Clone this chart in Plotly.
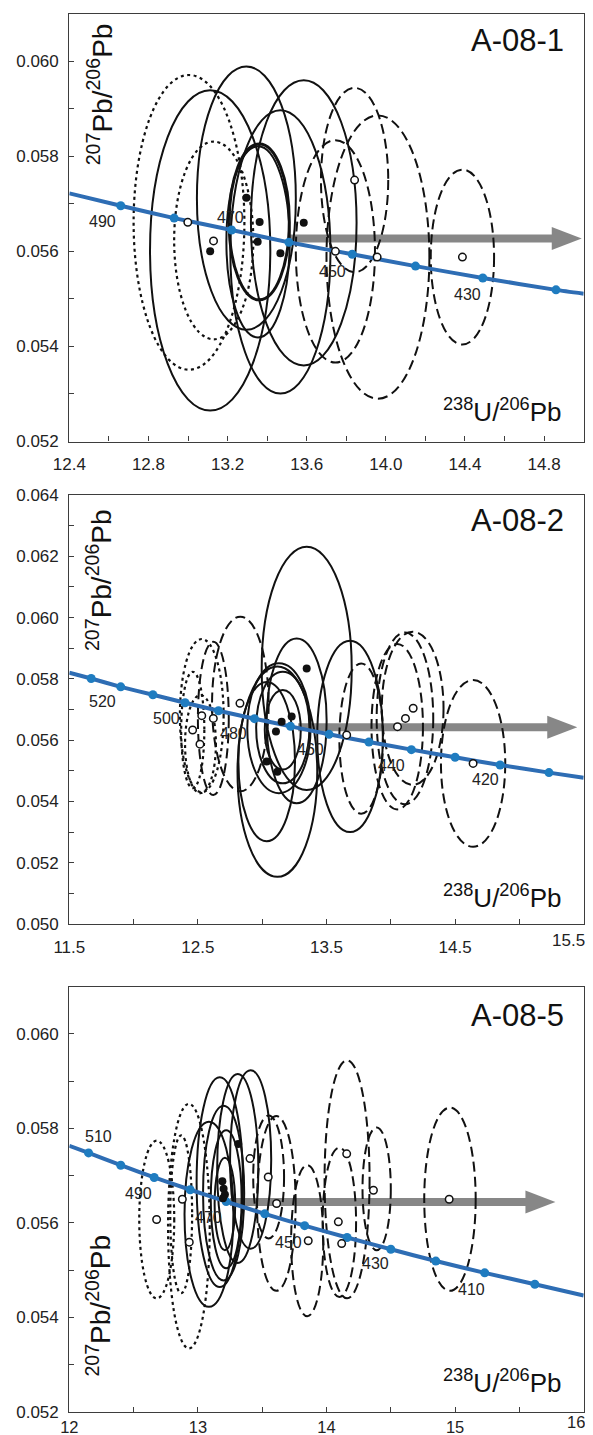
import plotly.graph_objects as go

# ================= DATA =================
# ---- Panel A-08-1 ----
a1_tick_x = [12.66, 12.93, 13.22, 13.51, 13.83, 14.15, 14.49, 14.86]
a1_tick_y = [0.05696, 0.05670, 0.05645, 0.05619, 0.05594, 0.05569, 0.05544, 0.05519]
a1_edge_x = [12.40, 15.00]
a1_edge_y = [0.05722, 0.05511]
a1_age_text = ["490", "470", "450", "430"]
a1_age_x = [12.568, 13.214, 13.729, 14.412]
a1_age_y = [0.05663, 0.05672, 0.05557, 0.05509]

a1_solid_cx = [13.112, 13.295, 13.585, 13.467, 13.360, 13.354]
a1_solid_cy = [0.05602, 0.05712, 0.05660, 0.05599, 0.05662, 0.05620]
a1_solid_rx = [0.304, 0.250, 0.267, 0.253, 0.152, 0.160]
a1_solid_ry = [0.00337, 0.00277, 0.00300, 0.00298, 0.00164, 0.00201]
a1_dash_cx = [13.842, 13.745, 13.960, 14.387]
a1_dash_cy = [0.05750, 0.05600, 0.05588, 0.05588]
a1_dash_rx = [0.170, 0.200, 0.260, 0.160]
a1_dash_ry = [0.00194, 0.00234, 0.00298, 0.00184]
a1_dot_cx = [13.005, 13.130]
a1_dot_cy = [0.05661, 0.05623]
a1_dot_rx = [0.280, 0.200]
a1_dot_ry = [0.00310, 0.00208]
a1_filled_x = [13.112, 13.295, 13.585, 13.467, 13.362, 13.352]
a1_filled_y = [0.05600, 0.05713, 0.05660, 0.05596, 0.05662, 0.05620]
a1_open_x = [12.999, 13.129, 13.842, 13.745, 13.956, 14.387]
a1_open_y = [0.05661, 0.05622, 0.05750, 0.05600, 0.05588, 0.05588]
a1_arrow = [13.51, 14.99, 0.05627]  # x start, x tip, y

# ---- Panel A-08-2 ----
a2_tick_x = [11.67, 11.90, 12.15, 12.40, 12.66, 12.94, 13.22, 13.52, 13.83, 14.16, 14.50, 14.85, 15.23]
a2_tick_y = [0.05801, 0.05774, 0.05748, 0.05722, 0.05696, 0.05670, 0.05645, 0.05619, 0.05594,
             0.05569, 0.05544, 0.05519, 0.05494]
a2_edge_x = [11.50, 15.50]
a2_edge_y = [0.05820, 0.05477]
a2_age_text = ["520", "500", "480", "460", "440", "420"]
a2_age_x = [11.761, 12.257, 12.775, 13.372, 14.007, 14.734]
a2_age_y = [0.05726, 0.05671, 0.05622, 0.05570, 0.05516, 0.05470]

a2_solid_cx = [13.346, 13.683, 13.118, 13.035, 13.268, 13.130, 13.160, 13.160]
a2_solid_cy = [0.05834, 0.05612, 0.05497, 0.05530, 0.05663, 0.05639, 0.05641, 0.05634]
a2_solid_rx = [0.350, 0.255, 0.310, 0.220, 0.233, 0.246, 0.207, 0.140]
a2_solid_ry = [0.00397, 0.00312, 0.00343, 0.00260, 0.00269, 0.00212, 0.00182, 0.00130]
a2_dash_cx = [12.620, 12.830, 13.770, 14.050, 14.110, 14.170, 14.640]
a2_dash_cy = [0.05671, 0.05718, 0.05605, 0.05644, 0.05671, 0.05704, 0.05524]
a2_dash_rx = [0.120, 0.220, 0.170, 0.200, 0.220, 0.240, 0.250]
a2_dash_ry = [0.00250, 0.00285, 0.00245, 0.00270, 0.00280, 0.00250, 0.00272]
a2_dot_cx = [12.530, 12.460, 12.520]
a2_dot_cy = [0.05680, 0.05633, 0.05587]
a2_dot_rx = [0.170, 0.090, 0.120]
a2_dot_ry = [0.00250, 0.00190, 0.00160]
a2_filled_x = [13.346, 13.229, 13.151, 13.107, 13.035, 13.118]
a2_filled_y = [0.05834, 0.05677, 0.05660, 0.05628, 0.05530, 0.05497]
a2_open_x = [12.530, 12.620, 12.459, 12.516, 12.827, 13.657, 14.052, 14.114, 14.174, 14.640]
a2_open_y = [0.05680, 0.05671, 0.05633, 0.05587, 0.05720, 0.05617, 0.05644, 0.05671, 0.05704, 0.05524]
a2_arrow = [13.28, 15.45, 0.05642]

# ---- Panel A-08-5 ----
a5_tick_x = [12.15, 12.40, 12.66, 12.94, 13.22, 13.52, 13.83, 14.16, 14.50, 14.85, 15.23, 15.62]
a5_tick_y = [0.05748, 0.05722, 0.05696, 0.05670, 0.05645, 0.05619, 0.05594, 0.05569, 0.05544,
             0.05519, 0.05494, 0.05470]
a5_edge_x = [12.00, 16.00]
a5_edge_y = [0.05763, 0.05446]
a5_age_text = ["510", "490", "470", "450", "430", "410"]
a5_age_x = [12.224, 12.537, 13.081, 13.703, 14.380, 15.130]
a5_age_y = [0.05782, 0.05663, 0.05612, 0.05559, 0.05514, 0.05459]

a5_solid_cx = [13.410, 13.310, 13.170, 13.086, 13.200, 13.220, 13.210]
a5_solid_cy = [0.05734, 0.05715, 0.05686, 0.05618, 0.05663, 0.05650, 0.05640]
a5_solid_rx = [0.160, 0.160, 0.180, 0.190, 0.160, 0.120, 0.080]
a5_solid_ry = [0.00189, 0.00200, 0.00222, 0.00196, 0.00185, 0.00146, 0.00098]
a5_dash_cx = [13.610, 13.550, 13.850, 14.160, 14.100, 14.390, 14.960]
a5_dash_cy = [0.05641, 0.05697, 0.05562, 0.05692, 0.05601, 0.05672, 0.05650]
a5_dash_rx = [0.150, 0.120, 0.125, 0.175, 0.130, 0.110, 0.200]
a5_dash_ry = [0.00185, 0.00130, 0.00160, 0.00252, 0.00158, 0.00130, 0.00194]
a5_dot_cx = [12.930, 12.680, 12.870]
a5_dot_cy = [0.05593, 0.05607, 0.05618]
a5_dot_rx = [0.162, 0.136, 0.085]
a5_dot_ry = [0.00259, 0.00167, 0.00167]
a5_filled_x = [13.314, 13.190, 13.200, 13.210, 13.195]
a5_filled_y = [0.05767, 0.05688, 0.05672, 0.05660, 0.05652]
a5_open_x = [12.933, 12.679, 12.879, 13.405, 13.547, 13.612, 13.858, 14.157, 14.092, 14.118,
             14.365, 14.954]
a5_open_y = [0.05559, 0.05607, 0.05650, 0.05736, 0.05697, 0.05641, 0.05562, 0.05746, 0.05602,
             0.05556, 0.05669, 0.05650]
a5_arrow = [13.25, 15.78, 0.05644]

panel_titles = ["A-08-1", "A-08-2", "A-08-5"]
x_ranges = [[12.4, 15.0], [11.5, 15.5], [12.0, 16.0]]
y_ranges = [[0.052, 0.061], [0.050, 0.064], [0.052, 0.061]]
x_tickvals = [[12.4, 12.8, 13.2, 13.6, 14.0, 14.4, 14.8],
              [11.5, 12.5, 13.5, 14.5, 15.5],
              [12, 13, 14, 15, 16]]
x_ticktext = [["12.4", "12.8", "13.2", "13.6", "14.0", "14.4", "14.8"],
              ["11.5", "12.5", "13.5", "14.5", "15.5"],
              ["12", "13", "14", "15", "16"]]
x_minor = [0.2, 0.5, 0.5]

# ================= STYLE =================
# The page body has an 8px default margin, so the figure is 8px smaller and
# page pixel positions are shifted by 8px.
OFF = 8
W, H = 593 - OFF, 1435 - OFF
FONT = "Liberation Sans, Arial, sans-serif"
AX = "#3d3d3d"
BLUE_LINE = "#2e6db4"
BLUE_DOT = "#1f7cc0"
GRAY = "#878787"


def px_x(v):
    return (v - OFF) / W


def px_y(v):
    return 1 - (v - OFF) / H


x_dom = [px_x(69.3), px_x(583.7)]
y_doms = [[px_y(441.5), px_y(13.7)],
          [px_y(924.0), px_y(495.0)],
          [px_y(1411.7), px_y(986.7)]]
x_standoff = [7, 7, 0]
x_tick_size = [17, 17, 16.5]
plot_w = 583.7 - 69.3

panels = [
    dict(tick=(a1_tick_x, a1_tick_y), edge=(a1_edge_x, a1_edge_y),
         ages=(a1_age_text, a1_age_x, a1_age_y),
         solid=(a1_solid_cx, a1_solid_cy, a1_solid_rx, a1_solid_ry),
         dash=(a1_dash_cx, a1_dash_cy, a1_dash_rx, a1_dash_ry),
         dot=(a1_dot_cx, a1_dot_cy, a1_dot_rx, a1_dot_ry),
         filled=(a1_filled_x, a1_filled_y), open=(a1_open_x, a1_open_y),
         arrow=a1_arrow, thick={4},
         ytitle=(0.06, 0.812), title_y=0.937, xtitle_y=0.072),
    dict(tick=(a2_tick_x, a2_tick_y), edge=(a2_edge_x, a2_edge_y),
         ages=(a2_age_text, a2_age_x, a2_age_y),
         solid=(a2_solid_cx, a2_solid_cy, a2_solid_rx, a2_solid_ry),
         dash=(a2_dash_cx, a2_dash_cy, a2_dash_rx, a2_dash_ry),
         dot=(a2_dot_cx, a2_dot_cy, a2_dot_rx, a2_dot_ry),
         filled=(a2_filled_x, a2_filled_y), open=(a2_open_x, a2_open_y),
         arrow=a2_arrow, thick=set(),
         ytitle=(0.058, 0.802), title_y=0.94, xtitle_y=0.064),
    dict(tick=(a5_tick_x, a5_tick_y), edge=(a5_edge_x, a5_edge_y),
         ages=(a5_age_text, a5_age_x, a5_age_y),
         solid=(a5_solid_cx, a5_solid_cy, a5_solid_rx, a5_solid_ry),
         dash=(a5_dash_cx, a5_dash_cy, a5_dash_rx, a5_dash_ry),
         dot=(a5_dot_cx, a5_dot_cy, a5_dot_rx, a5_dot_ry),
         filled=(a5_filled_x, a5_filled_y), open=(a5_open_x, a5_open_y),
         arrow=a5_arrow, thick=set(),
         ytitle=(0.058, 0.25), title_y=0.933, xtitle_y=0.07),
]

fig = go.Figure()
shapes = []
annotations = []

for i, p in enumerate(panels):
    sfx = "" if i == 0 else str(i + 1)
    xr, yr = "x" + sfx, "y" + sfx

    # arrow (below the ellipses)
    x0, xtip, ya = p["arrow"]
    ppu = plot_w / (x_ranges[i][1] - x_ranges[i][0])
    shapes.append(dict(type="line", xref=xr, yref=yr, x0=x0, x1=xtip - 22 / ppu, y0=ya, y1=ya,
                       line=dict(color=GRAY, width=8), layer="below"))
    shapes.append(dict(type="path", xref=xr, yref=yr, xsizemode="pixel", ysizemode="pixel",
                       xanchor=xtip, yanchor=ya, path="M 0 0 L -30 11.5 L -30 -11.5 Z",
                       fillcolor=GRAY, line=dict(width=0), layer="below"))

    def add_ellipses(data, dash, width_fn):
        cx, cy, rx, ry = data
        for k in range(len(cx)):
            shapes.append(dict(type="circle", xref=xr, yref=yr,
                               x0=cx[k] - rx[k], x1=cx[k] + rx[k],
                               y0=cy[k] - ry[k], y1=cy[k] + ry[k],
                               line=dict(color="#111111", width=width_fn(k), dash=dash),
                               fillcolor="rgba(0,0,0,0)", layer="below"))

    add_ellipses(p["dot"], "3px,3.5px", lambda k: 2.2)
    add_ellipses(p["dash"], "10px,5px", lambda k: 2)
    add_ellipses(p["solid"], "solid", lambda k, t=p["thick"]: 3 if k in t else 2)

    # concordia curve
    tx, ty = p["tick"]
    ex, ey = p["edge"]
    fig.add_trace(go.Scatter(x=[ex[0]] + tx + [ex[1]], y=[ey[0]] + ty + [ey[1]], mode="lines",
                             line=dict(color=BLUE_LINE, width=4, shape="spline", smoothing=0.5),
                             xaxis=xr, yaxis=yr, showlegend=False, hoverinfo="skip"))
    fig.add_trace(go.Scatter(x=tx, y=ty, mode="markers",
                             marker=dict(color=BLUE_DOT, size=9, line=dict(width=0)),
                             xaxis=xr, yaxis=yr, showlegend=False))
    fx, fy = p["filled"]
    fig.add_trace(go.Scatter(x=fx, y=fy, mode="markers",
                             marker=dict(color="#111111", size=8, line=dict(width=0)),
                             xaxis=xr, yaxis=yr, showlegend=False))
    ox, oy = p["open"]
    fig.add_trace(go.Scatter(x=ox, y=oy, mode="markers",
                             marker=dict(color="white", size=7.5, line=dict(color="#111111", width=1.5)),
                             xaxis=xr, yaxis=yr, showlegend=False))

    # age labels
    txt, lx, ly = p["ages"]
    for t, a, b in zip(txt, lx, ly):
        annotations.append(dict(x=a, y=b, xref=xr, yref=yr, text=t, showarrow=False,
                                font=dict(family=FONT, size=16, color="#222222")))

    # panel titles and axis titles
    annotations.append(dict(x=0.965, y=p["title_y"], xref=xr + " domain", yref=yr + " domain",
                            text=panel_titles[i], showarrow=False, xanchor="right", yanchor="middle",
                            font=dict(family=FONT, size=31, color="#111111")))
    annotations.append(dict(x=0.962, y=p["xtitle_y"], xref=xr + " domain", yref=yr + " domain",
                            text="<sup>238</sup>U/<sup>206</sup>Pb", showarrow=False,
                            xanchor="right", yanchor="middle",
                            font=dict(family=FONT, size=26, color="#111111")))
    annotations.append(dict(x=p["ytitle"][0], y=p["ytitle"][1], xref=xr + " domain",
                            yref=yr + " domain", text="<sup>207</sup>Pb/<sup>206</sup>Pb",
                            showarrow=False, textangle=-90, xanchor="center", yanchor="middle",
                            font=dict(family=FONT, size=28, color="#111111")))

    # a tick label sitting on the right border is drawn flush with the page edge
    if abs(x_tickvals[i][-1] - x_ranges[i][1]) < 1e-9:
        annotations.append(dict(x=1.0, y=0, xref="paper", yref=yr + " domain",
                                text=x_ticktext[i][-1], showarrow=False, xanchor="right",
                                yanchor="top", yshift=-max(x_standoff[i] - 1, 0), xshift=-7,
                                borderpad=0,
                                font=dict(family=FONT, size=x_tick_size[i], color="#222222")))

layout = dict(width=W, height=H, margin=dict(l=0, r=0, t=0, b=0, autoexpand=False),
              paper_bgcolor="white", plot_bgcolor="white",
              font=dict(family=FONT, size=17, color="#222222"),
              shapes=shapes, annotations=annotations, showlegend=False)

for i in range(3):
    sfx = "" if i == 0 else str(i + 1)
    xr0, xr1 = x_ranges[i]
    yr0, yr1 = y_ranges[i]
    shown_text = [t if abs(v - xr1) > 1e-9 else "" for v, t in zip(x_tickvals[i], x_ticktext[i])]
    common = dict(showline=True, linecolor=AX, linewidth=1.3, mirror=True, showgrid=False,
                  zeroline=False, ticks="inside", ticklen=5, tickwidth=1.2, tickcolor=AX,
                  automargin=False)
    layout["xaxis" + sfx] = dict(domain=x_dom, anchor="y" + sfx,
                                 range=[xr0 - 1e-6, xr1 + 1e-6], tickmode="array",
                                 tickvals=x_tickvals[i], ticktext=shown_text,
                                 ticklabelstandoff=x_standoff[i], ticklabeloverflow="allow",
                                 tickfont=dict(family=FONT, size=x_tick_size[i], color="#222222"),
                                 minor=dict(dtick=x_minor[i], tick0=xr0, ticks="inside", ticklen=5,
                                            tickwidth=1.2, tickcolor=AX),
                                 **common)
    layout["yaxis" + sfx] = dict(domain=y_doms[i], anchor="x" + sfx,
                                 range=[yr0 - 1e-8, yr1 + 1e-8], tick0=yr0, dtick=0.002,
                                 tickformat=".3f", ticklabelstandoff=6,
                                 tickfont=dict(family=FONT, size=17, color="#222222"),
                                 minor=dict(dtick=0.001, tick0=yr0, ticks="inside", ticklen=5,
                                            tickwidth=1.2, tickcolor=AX),
                                 **common)

fig.update_layout(**layout)
fig.write_html("out.html")
